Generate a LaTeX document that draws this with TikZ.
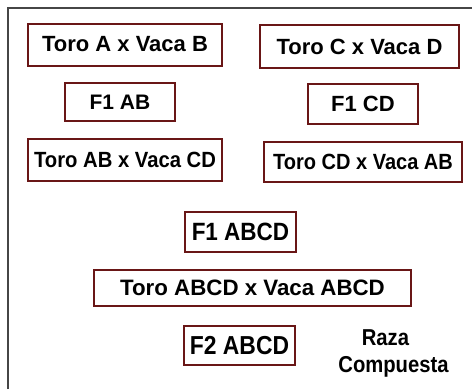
\documentclass[tikz,border=0pt]{standalone}
\usepackage{graphicx}
\usepackage{fontspec}
\setmainfont{Liberation Sans}
\newcommand{\sqz}[2]{\scalebox{#1}[1]{#2}}
\definecolor{boxred}{RGB}{105,22,22}
\definecolor{framegray}{RGB}{70,70,70}
\tikzset{
  crossbox/.style={draw=boxred, line width=2pt, fill=white, inner sep=0pt,
    text=black},
  plain/.style={inner sep=0pt, text=black},
  fs/.style={font=\bfseries\fontsize{#1}{#1}\selectfont}
}
\begin{document}
\begin{tikzpicture}[x=1pt,y=-1pt]
\useasboundingbox (0,0) rectangle (472,389);
\fill[white] (0,0) rectangle (472,389);
\draw[framegray, line width=1.5pt] (8,389) -- (8,8) -- (472,8);

\node[crossbox, fs=22, minimum width=194pt, minimum height=42pt] (ab) at (125,44.5) {Toro A x Vaca B};
\node[crossbox, fs=22, minimum width=199pt, minimum height=43pt] (cd) at (359.5,46.5) {Toro C x Vaca D};
\node[crossbox, fs=21, minimum width=110pt, minimum height=38pt] (f1ab) at (120,102) {F1 AB};
\node[crossbox, fs=22, minimum width=110pt, minimum height=40pt] (f1cd) at (363,104) {F1 CD};
\node[crossbox, fs=22, minimum width=194pt, minimum height=42pt] (abcd) at (125,160) {\sqz{0.92}{Toro AB x Vaca CD}};
\node[crossbox, fs=22, minimum width=198pt, minimum height=40pt] (cdab) at (363,162) {\sqz{0.91}{Toro CD x Vaca AB}};
\node[crossbox, fs=25, minimum width=111pt, minimum height=40pt] (f1abcd) at (240.5,232) {\sqz{0.9}{F1 ABCD}};
\node[crossbox, fs=22.3, minimum width=317pt, minimum height=36pt] (abcdx) at (252.5,288) {Toro ABCD x Vaca ABCD};
\node[crossbox, fs=26, minimum width=111pt, minimum height=39pt] (f2abcd) at (239.5,345.5) {\sqz{0.88}{F2 ABCD}};
\node[plain, fs=23, anchor=base] (raza) at (385.5,345) {\sqz{0.88}{Raza}};
\node[plain, fs=23, anchor=base] (comp) at (393.5,372) {\sqz{0.88}{Compuesta}};
\end{tikzpicture}
\end{document}
